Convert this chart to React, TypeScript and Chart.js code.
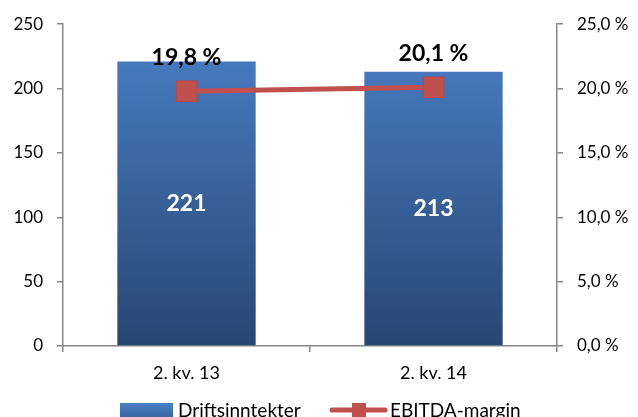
import React, { useEffect, useRef } from "react";
import { Chart, registerables } from "chart.js";

Chart.register(...registerables);

const categories = ["2. kv. 13", "2. kv. 14"];
const revenue = [221, 213];
const ebitdaMargin = [19.8, 20.1];
const revenueLabel = "Driftsinntekter";
const marginLabel = "EBITDA-margin";

const FONT = "Lato, 'Open Sans', sans-serif";
const AXIS_GREY = "#868686";
const LINE_RED = "#c0504d";
const BAR_TOP = "#4a80c7";
const BAR_BOTTOM = "#284673";

const fmtPct = (v: number) => v.toFixed(1).replace(".", ",") + " %";

const labelsPlugin = {
  id: "valueLabels",
  afterDatasetsDraw(chart: any) {
    const { ctx } = chart;
    ctx.save();
    ctx.textAlign = "center";
    ctx.textBaseline = "middle";

    const bars = chart.getDatasetMeta(0).data;
    ctx.fillStyle = "#ffffff";
    ctx.font = `bold 23px ${FONT}`;
    bars.forEach((bar: any, i: number) => {
      const mid = (bar.y + bar.base) / 2;
      ctx.fillText(String(revenue[i]), bar.x, mid);
    });

    const pts = chart.getDatasetMeta(1).data;
    ctx.fillStyle = "#000000";
    ctx.font = `bold 23px ${FONT}`;
    pts.forEach((pt: any, i: number) => {
      ctx.fillText(fmtPct(ebitdaMargin[i]), pt.x, pt.y - 34);
    });
    ctx.restore();
  },
  afterDraw(chart: any) {
    const { ctx } = chart;
    ctx.save();
    const cy = 410;
    // bar swatch with gradient
    const g = ctx.createLinearGradient(0, 403, 0, 417);
    g.addColorStop(0, BAR_TOP);
    g.addColorStop(1, "#3a66a3");
    ctx.fillStyle = g;
    ctx.fillRect(120, 403, 53, 16);
    ctx.fillStyle = "#000000";
    ctx.font = `19px ${FONT}`;
    ctx.textAlign = "left";
    ctx.textBaseline = "middle";
    ctx.fillText(revenueLabel, 178, cy + 1);

    // line swatch with marker
    ctx.strokeStyle = LINE_RED;
    ctx.lineWidth = 5;
    ctx.lineCap = "round";
    ctx.beginPath();
    ctx.moveTo(332, cy);
    ctx.lineTo(385, cy);
    ctx.stroke();
    ctx.fillStyle = LINE_RED;
    ctx.fillRect(352, cy - 7, 14, 14);
    ctx.fillStyle = "#000000";
    ctx.fillText(marginLabel, 390, cy + 1);
    ctx.restore();
  },
};

export default function App() {
  const ref = useRef<HTMLCanvasElement>(null);

  useEffect(() => {
    if (!ref.current) return;
    const chart = new Chart(ref.current, {
      type: "bar",
      data: {
        labels: categories,
        datasets: [
          {
            type: "bar",
            label: revenueLabel,
            data: revenue,
            yAxisID: "y",
            order: 2,
            categoryPercentage: 1,
            barPercentage: 0.56,
            backgroundColor: (c: any) => {
              const area = c.chart.chartArea;
              if (!area) return BAR_TOP;
              const g = c.chart.ctx.createLinearGradient(0, area.top, 0, area.bottom);
              g.addColorStop(0, BAR_TOP);
              g.addColorStop(1, BAR_BOTTOM);
              return g;
            },
          },
          {
            type: "line",
            label: marginLabel,
            data: ebitdaMargin,
            yAxisID: "y1",
            order: 1,
            borderColor: LINE_RED,
            borderWidth: 5,
            pointStyle: "rect",
            pointRadius: 14.5,
            pointBackgroundColor: LINE_RED,
            pointBorderColor: "#b84a47",
            pointBorderWidth: 1,
          },
        ],
      } as any,
      options: {
        responsive: false,
        animation: false,
        layout: { padding: { top: 22, left: 0, right: 0, bottom: 0 } },
        plugins: { legend: { display: false }, tooltip: { enabled: false } },
        scales: {
          x: {
            grid: {
              offset: true,
              drawOnChartArea: false,
              drawTicks: true,
              tickLength: 6,
              color: AXIS_GREY,
              lineWidth: 1.5,
            },
            border: { color: AXIS_GREY, width: 1.5 },
            ticks: { color: "#000", font: { family: FONT, size: 18 }, padding: 10 },
            afterFit(s: any) {
              s.height = 71;
            },
          },
          y: {
            position: "left",
            min: 0,
            max: 250,
            grid: { drawOnChartArea: false, tickLength: 6, color: AXIS_GREY, lineWidth: 1.5 },
            border: { color: AXIS_GREY, width: 1.5 },
            ticks: { stepSize: 50, color: "#000", font: { family: FONT, size: 17 }, padding: 14 },
            afterFit(s: any) {
              s.width = 63;
            },
          },
          y1: {
            position: "right",
            min: 0,
            max: 25,
            grid: { drawOnChartArea: false, tickLength: 6, color: AXIS_GREY, lineWidth: 1.5 },
            border: { color: AXIS_GREY, width: 1.5 },
            ticks: {
              stepSize: 5,
              color: "#000",
              font: { family: FONT, size: 17 },
              padding: 14,
              callback: (v: any) => fmtPct(Number(v)),
            },
            afterFit(s: any) {
              s.width = 81;
            },
          },
        },
      } as any,
      plugins: [labelsPlugin],
    });
    return () => chart.destroy();
  }, []);

  return (
    <div style={{ position: "fixed", left: 0, top: 0, width: 638, height: 417, background: "#fff" }}>
      <canvas ref={ref} width={638} height={417} />
    </div>
  );
}
